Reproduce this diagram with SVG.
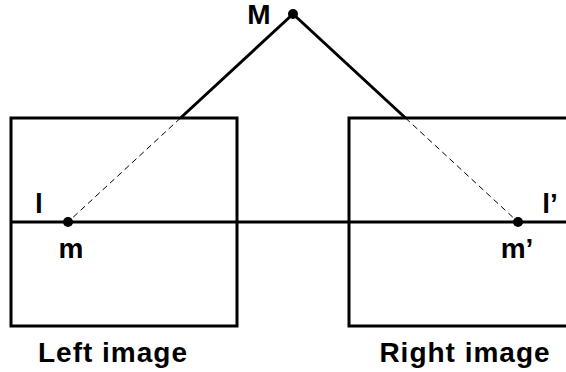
<svg xmlns="http://www.w3.org/2000/svg" width="566" height="372" viewBox="0 0 566 372">
<style>
.frame{fill:none;stroke:#000;stroke-width:3}
.solid{stroke:#000;stroke-width:3;fill:none}
.dash{stroke:#000;stroke-width:1;stroke-dasharray:6 4;fill:none}
.dot{fill:#000}
text{font-family:"Liberation Sans",Arial,sans-serif;font-weight:bold;font-size:28px;fill:#000}
.cap{letter-spacing:1px}
</style>
<rect width="566" height="372" fill="#fff"/>
<g id="left-image">
<rect class="frame" x="11" y="118" width="226" height="208"/>
<text class="cap" x="113" y="362" text-anchor="middle">Left image</text>
</g>
<g id="right-image">
<rect class="frame" x="349" y="118" width="226" height="208"/>
<text class="cap" x="465" y="362" text-anchor="middle">Right image</text>
</g>
<g id="connectors">
<line class="solid" x1="11" y1="222" x2="566" y2="222"/>
<line class="solid" x1="293" y1="14" x2="180.5" y2="118"/>
<line class="dash" x1="180.5" y1="118" x2="68" y2="222"/>
<line class="solid" x1="293" y1="14" x2="405.5" y2="118"/>
<line class="dash" x1="405.5" y1="118" x2="518" y2="222"/>
</g>
<g id="point-M">
<circle class="dot" cx="293" cy="14" r="5"/>
<text x="259" y="24" text-anchor="middle">M</text>
</g>
<g id="point-m">
<circle class="dot" cx="68" cy="222" r="5"/>
<text x="71" y="258" text-anchor="middle">m</text>
<text x="39" y="213" text-anchor="middle">l</text>
</g>
<g id="point-m-prime">
<circle class="dot" cx="518" cy="222" r="5"/>
<text x="517" y="258" text-anchor="middle">m’</text>
<text x="550" y="213" text-anchor="middle">l’</text>
</g>
</svg>
